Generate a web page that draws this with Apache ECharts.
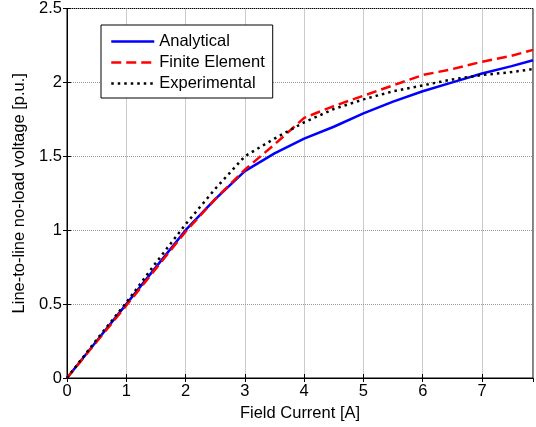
<!DOCTYPE html>
<html>
<head>
  <meta charset="utf-8">
  <script src="https://cdn.jsdelivr.net/npm/echarts@6/dist/echarts.min.js"></script>
  <style>
    body { margin: 0; background: #fff; }
    #main { width: 536px; height: 427px; }
  </style>
</head>
<body>
  <div id="main"></div>
  <script>
    // field current [A]
    var current = [0, 0.5, 1, 1.5, 2, 2.5, 3, 3.5, 4, 4.5, 5, 5.5, 6, 6.5, 7, 7.5, 7.86];
    var analytical = [0, 0.25, 0.5, 0.75, 1.0, 1.21, 1.40, 1.52, 1.62, 1.70, 1.79, 1.87, 1.94, 2.00, 2.06, 2.11, 2.15];
    var finiteElement = [0, 0.245, 0.49, 0.74, 0.99, 1.21, 1.41, 1.58, 1.76, 1.84, 1.91, 1.98, 2.05, 2.09, 2.14, 2.18, 2.22];
    var experimental = [0, 0.26, 0.51, 0.78, 1.04, 1.28, 1.50, 1.62, 1.73, 1.82, 1.885, 1.94, 1.98, 2.02, 2.05, 2.07, 2.09];

    function pairs(ys) {
      return current.map(function (x, i) { return [x, ys[i]]; });
    }

    var font = 'Liberation Sans, Arial, sans-serif';
    var fs = 16.5;
    var myChart = echarts.init(document.getElementById('main'));

    var gridLine = { show: true, lineStyle: { color: '#999', type: [1, 1], width: 1 } };

    var option = {
      animation: false,
      backgroundColor: '#fff',
      textStyle: { fontFamily: font },
      grid: { left: 67, top: 8, right: 3, bottom: 48, show: true, borderColor: '#000', borderWidth: 1 },
      legend: {
        orient: 'vertical',
        left: 101,
        top: 25,
        padding: [8, 8, 6, 9],
        itemWidth: 43,
        itemHeight: 17,
        itemGap: 4,
        backgroundColor: '#fff',
        borderColor: '#000',
        borderWidth: 1,
        itemStyle: { opacity: 0 },
        lineStyle: { width: 2.5 },
        textStyle: { fontSize: fs, color: '#000', fontFamily: font },
        data: ['Analytical', 'Finite Element', 'Experimental']
      },
      xAxis: [{
        type: 'value',
        min: 0,
        max: 7.86,
        interval: 1,
        name: 'Field Current [A]',
        nameLocation: 'middle',
        nameGap: 27,
        nameTextStyle: { fontSize: fs, color: '#000' },
        axisLine: { lineStyle: { color: '#000' } },
        axisTick: { inside: true, length: 4, lineStyle: { color: '#000' } },
        axisLabel: { fontSize: fs, color: '#000', showMaxLabel: false, margin: 5 },
        splitLine: gridLine
      }, {
        type: 'value',
        position: 'top',
        min: 0,
        max: 7.86,
        interval: 1,
        axisLine: { lineStyle: { color: '#000' } },
        axisTick: { inside: true, length: 4, lineStyle: { color: '#000' } },
        axisLabel: { show: false },
        splitLine: { show: false }
      }],
      yAxis: [{
        type: 'value',
        min: 0,
        max: 2.5,
        interval: 0.5,
        name: 'Line-to-line no-load voltage [p.u.]',
        nameLocation: 'middle',
        nameGap: 38,
        nameTextStyle: { fontSize: fs, color: '#000' },
        axisLine: { show: true, lineStyle: { color: '#000' } },
        axisTick: { show: true, inside: true, length: 4, lineStyle: { color: '#000' } },
        axisLabel: { fontSize: fs, color: '#000', margin: 5 },
        splitLine: gridLine
      }, {
        type: 'value',
        position: 'right',
        min: 0,
        max: 2.5,
        interval: 0.5,
        axisLine: { show: true, lineStyle: { color: '#000' } },
        axisTick: { show: true, inside: true, length: 4, lineStyle: { color: '#000' } },
        axisLabel: { show: false },
        splitLine: { show: false }
      }],
      series: [
        {
          name: 'Analytical',
          type: 'line',
          data: pairs(analytical),
          symbol: 'none',
          color: '#0000ff',
          lineStyle: { color: '#0000ff', width: 2.5 },
          z: 3
        },
        {
          name: 'Finite Element',
          type: 'line',
          data: pairs(finiteElement),
          symbol: 'none',
          color: '#ff0000',
          lineStyle: { color: '#ff0000', width: 2.5, type: [10, 5] },
          z: 4
        },
        {
          name: 'Experimental',
          type: 'line',
          data: pairs(experimental),
          symbol: 'none',
          color: '#000000',
          lineStyle: { color: '#000', width: 2.5, type: [2.5, 4] },
          z: 5
        }
      ]
    };

    myChart.setOption(option);
  </script>
</body>
</html>
